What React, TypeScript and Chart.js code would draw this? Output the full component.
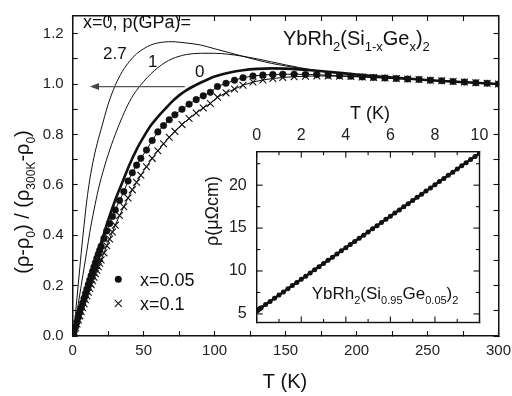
import React, { useEffect, useRef } from 'react';
import { Chart, registerables } from 'chart.js';
Chart.register(...registerables);

const FONT = '"Liberation Sans", Arial, sans-serif';

// ---- axis ticks ----
const mainXTicks = [0, 50, 100, 150, 200, 250, 300];
const mainXMinor = [25, 75, 125, 175, 225, 275];
const mainYTicks = [0, 0.2, 0.4, 0.6, 0.8, 1.0, 1.2];
const mainYMinor = [0.1, 0.3, 0.5, 0.7, 0.9, 1.1];
const insetXTicks = [0, 2, 4, 6, 8, 10];
const insetXMinor = [1, 3, 5, 7, 9];
const insetYTicks = [5, 10, 15, 20];
const insetYMinor = [7.5, 12.5, 17.5, 22.5];

// ---- x=0, p=2.7 GPa (thin) ----
const tP27 = [0, 1, 2, 3, 4, 5, 6, 8, 10, 12, 15, 18, 20, 25, 30, 35, 40, 45, 50, 55, 60, 65, 70, 75, 80, 90, 100, 110, 120, 130, 140, 150, 160, 170, 180, 200, 220, 240, 260, 280, 300];
const vP27 = [0, 0.04, 0.09, 0.15, 0.21, 0.27, 0.33, 0.44, 0.54, 0.62, 0.71, 0.78, 0.82, 0.92, 0.995, 1.05, 1.09, 1.12, 1.14, 1.155, 1.163, 1.167, 1.168, 1.166, 1.163, 1.155, 1.14, 1.125, 1.11, 1.095, 1.082, 1.072, 1.062, 1.054, 1.047, 1.036, 1.027, 1.019, 1.012, 1.006, 1.0];

// ---- x=0, p=1 GPa (thin) ----
const tP1 = [0, 2, 4, 6, 8, 10, 12, 15, 18, 20, 25, 30, 35, 40, 45, 50, 55, 60, 65, 70, 75, 80, 90, 100, 110, 120, 130, 140, 150, 160, 170, 180, 200, 220, 240, 260, 280, 300];
const vP1 = [0, 0.06, 0.13, 0.2, 0.27, 0.34, 0.41, 0.5, 0.58, 0.625, 0.72, 0.8, 0.87, 0.93, 0.975, 1.01, 1.04, 1.065, 1.085, 1.1, 1.11, 1.117, 1.122, 1.122, 1.118, 1.11, 1.1, 1.088, 1.076, 1.065, 1.055, 1.047, 1.036, 1.027, 1.019, 1.012, 1.006, 1.0];

// ---- x=0, p=0 (thick) ----
const tP0 = [0, 2, 4, 6, 8, 10, 12, 15, 18, 20, 25, 30, 35, 40, 45, 50, 55, 60, 65, 70, 75, 80, 90, 100, 110, 120, 130, 140, 150, 160, 170, 180, 200, 220, 240, 260, 280, 300];
const vP0 = [0, 0.03, 0.07, 0.11, 0.15, 0.19, 0.225, 0.28, 0.335, 0.37, 0.46, 0.54, 0.61, 0.68, 0.74, 0.79, 0.835, 0.87, 0.9, 0.93, 0.955, 0.975, 1.005, 1.03, 1.045, 1.055, 1.06, 1.062, 1.061, 1.058, 1.054, 1.049, 1.038, 1.028, 1.02, 1.012, 1.006, 1.0];

// ---- x=0.05 (dots) ----
const tX005 = [0, 1, 2, 3, 4, 5, 6, 7, 8, 9, 10, 11, 12, 13, 14, 15, 16, 17, 18, 19, 20, 22, 24, 26, 28, 30, 33, 36, 39, 42, 45, 48, 52, 56, 60, 64, 68, 72, 77, 82, 87, 92, 97, 102, 108, 114, 120, 127, 134, 141, 148, 156, 164, 172, 180, 188, 196, 204, 212, 220, 228, 236, 244, 252, 260, 268, 276, 284, 292, 300];
const vX005 = [0, 0.018, 0.036, 0.055, 0.074, 0.093, 0.112, 0.131, 0.15, 0.168, 0.186, 0.204, 0.222, 0.24, 0.257, 0.274, 0.291, 0.308, 0.324, 0.34, 0.356, 0.387, 0.417, 0.446, 0.474, 0.5, 0.538, 0.573, 0.615, 0.648, 0.678, 0.705, 0.738, 0.776, 0.81, 0.835, 0.858, 0.878, 0.9, 0.92, 0.938, 0.953, 0.967, 0.99, 1.003, 1.015, 1.025, 1.032, 1.036, 1.038, 1.039, 1.039, 1.038, 1.037, 1.035, 1.033, 1.031, 1.028, 1.026, 1.024, 1.022, 1.02, 1.018, 1.015, 1.013, 1.01, 1.008, 1.005, 1.003, 1.0];

// ---- x=0.1 (crosses) ----
const tX01 = [0, 1, 2, 3, 4, 5, 6, 7, 8, 9, 10, 11, 12, 13, 14, 15, 16, 17, 18, 19, 20, 22, 24, 26, 28, 30, 33, 36, 39, 42, 45, 48, 52, 56, 60, 64, 68, 72, 77, 82, 87, 92, 97, 102, 108, 114, 120, 127, 134, 141, 148, 156, 164, 172, 180, 188, 196, 204, 212, 220, 228, 236, 244, 252, 260, 268, 276, 284, 292, 300];
const vX01 = [0, 0.016, 0.032, 0.048, 0.064, 0.08, 0.096, 0.112, 0.128, 0.144, 0.159, 0.174, 0.189, 0.204, 0.219, 0.233, 0.247, 0.261, 0.275, 0.289, 0.302, 0.33, 0.358, 0.385, 0.413, 0.44, 0.478, 0.513, 0.548, 0.58, 0.61, 0.638, 0.672, 0.705, 0.735, 0.763, 0.789, 0.812, 0.839, 0.863, 0.885, 0.905, 0.923, 0.948, 0.965, 0.98, 0.995, 1.008, 1.016, 1.022, 1.026, 1.029, 1.031, 1.032, 1.032, 1.031, 1.03, 1.028, 1.026, 1.024, 1.022, 1.02, 1.018, 1.015, 1.013, 1.01, 1.008, 1.005, 1.003, 1.0];

// ---- inset: rho(T) of YbRh2(Si0.95Ge0.05)2 ----
const tInset = [0, 0.05, 0.1, 0.15, 0.2, 0.4, 0.6, 0.8, 1.0, 1.2, 1.4, 1.6, 1.8, 2.0, 2.2, 2.4, 2.6, 2.8, 3.0, 3.2, 3.4, 3.6, 3.8, 4.0, 4.2, 4.4, 4.6, 4.8, 5.0, 5.2, 5.4, 5.6, 5.8, 6.0, 6.2, 6.4, 6.6, 6.8, 7.0, 7.2, 7.4, 7.6, 7.8, 8.0, 8.2, 8.4, 8.6, 8.8, 9.0, 9.2, 9.4, 9.6, 9.8, 10.0];
const rhoInset = [5.35, 5.44, 5.53, 5.63, 5.72, 6.09, 6.45, 6.82, 7.19, 7.56, 7.93, 8.3, 8.67, 9.03, 9.4, 9.77, 10.14, 10.51, 10.88, 11.24, 11.61, 11.98, 12.35, 12.71, 13.08, 13.45, 13.82, 14.18, 14.55, 14.92, 15.28, 15.65, 16.02, 16.38, 16.75, 17.12, 17.48, 17.85, 18.22, 18.58, 18.95, 19.32, 19.68, 20.05, 20.42, 20.78, 21.15, 21.51, 21.88, 22.25, 22.61, 22.98, 23.34, 23.71];

const pts = (xs: number[], ys: number[]) => xs.map((x, i) => ({ x, y: ys[i] }));
const allSorted = (a: number[], b: number[]) => [...a, ...b].sort((p, q) => p - q);
const isMajor = (list: number[], v: number) => list.some(m => Math.abs(m - v) < 1e-9);

type Seg = { t: string; sub?: boolean };

function drawRich(ctx: CanvasRenderingContext2D, segs: Seg[], x: number, y: number, size: number, subSize: number, align: 'left' | 'center' = 'left') {
  let total = 0;
  const widths: number[] = [];
  for (const s of segs) {
    ctx.font = `${s.sub ? subSize : size}px ${FONT}`;
    const w = ctx.measureText(s.t).width;
    widths.push(w);
    total += w;
  }
  let cx = align === 'center' ? x - total / 2 : x;
  ctx.textAlign = 'left';
  ctx.textBaseline = 'alphabetic';
  segs.forEach((s, i) => {
    ctx.font = `${s.sub ? subSize : size}px ${FONT}`;
    ctx.fillText(s.t, cx, y + (s.sub ? size * 0.28 : 0));
    cx += widths[i];
  });
}

function drawBoxTicks(ctx: CanvasRenderingContext2D, xs: any, ys: any, xMaj: number[], xMin: number[], yMaj: number[], yMin: number[], majLen: number, minLen: number, lw: number) {
  const L = xs.getPixelForValue(xs.min), R = xs.getPixelForValue(xs.max);
  const T = ys.getPixelForValue(ys.max), B = ys.getPixelForValue(ys.min);
  ctx.save();
  ctx.fillStyle = '#111111';
  const h = lw / 2;
  ctx.fillRect(L - h, T - h, R - L + lw, lw);
  ctx.fillRect(L - h, B - h, R - L + lw, lw);
  ctx.fillRect(L - h, T - h, lw, B - T + lw);
  ctx.fillRect(R - h, T - h, lw, B - T + lw);
  const tw = 1.1;
  xMaj.forEach(v => { const p = xs.getPixelForValue(v); ctx.fillRect(p - tw / 2, B - majLen, tw, majLen); ctx.fillRect(p - tw / 2, T, tw, majLen); });
  xMin.forEach(v => { const p = xs.getPixelForValue(v); ctx.fillRect(p - tw / 2, B - minLen, tw, minLen); ctx.fillRect(p - tw / 2, T, tw, minLen); });
  yMaj.forEach(v => { const p = ys.getPixelForValue(v); ctx.fillRect(L, p - tw / 2, majLen, tw); ctx.fillRect(R - majLen, p - tw / 2, majLen, tw); });
  yMin.forEach(v => { const p = ys.getPixelForValue(v); ctx.fillRect(L, p - tw / 2, minLen, tw); ctx.fillRect(R - minLen, p - tw / 2, minLen, tw); });
  ctx.restore();
}

const zeroPad = (s: any) => { s.paddingLeft = 0; s.paddingRight = 0; s.paddingTop = 0; s.paddingBottom = 0; };

const mainPlugin = {
  id: 'mainDecor',
  afterDraw(chart: any) {
    const ctx: CanvasRenderingContext2D = chart.ctx;
    const xs = chart.scales.x, ys = chart.scales.y;
    ctx.save();
    ctx.fillStyle = '#111';
    ctx.font = `20px ${FONT}`;
    ctx.textAlign = 'center';
    ctx.textBaseline = 'alphabetic';
    ctx.fillText('T (K)', 285, 388);
    ctx.save();
    ctx.translate(29, 202);
    ctx.rotate(-Math.PI / 2);
    drawRich(ctx, [
      { t: '(ρ-ρ' }, { t: '0', sub: true }, { t: ') / (ρ' }, { t: '300K', sub: true },
      { t: '-ρ' }, { t: '0', sub: true }, { t: ')' },
    ], 0, 0, 20, 12, 'center');
    ctx.restore();
    ctx.font = `18px ${FONT}`;
    ctx.textAlign = 'left';
    ctx.fillText('x=0, p(GPa)=', 83, 28);
    ctx.font = `17px ${FONT}`;
    ctx.fillText('2.7', 103, 59);
    ctx.fillText('1', 148, 66.5);
    ctx.fillText('0', 195, 77);
    drawRich(ctx, [
      { t: 'YbRh' }, { t: '2', sub: true }, { t: '(Si' }, { t: '1-x', sub: true },
      { t: 'Ge' }, { t: 'x', sub: true }, { t: ')' }, { t: '2', sub: true },
    ], 283, 45, 20, 13);
    const yA = ys.getPixelForValue(0.99);
    const x0 = xs.getPixelForValue(79), x1 = xs.getPixelForValue(12.2);
    ctx.strokeStyle = '#555';
    ctx.fillStyle = '#444';
    ctx.lineWidth = 1.3;
    ctx.beginPath();
    ctx.moveTo(x0, yA); ctx.lineTo(x1 + 6, yA);
    ctx.stroke();
    ctx.beginPath();
    ctx.moveTo(x1, yA); ctx.lineTo(x1 + 9, yA - 3.5); ctx.lineTo(x1 + 9, yA + 3.5); ctx.closePath();
    ctx.fill();
    ctx.fillStyle = '#111';
    ctx.strokeStyle = '#111';
    ctx.beginPath(); ctx.arc(118.3, 279.3, 3.5, 0, Math.PI * 2); ctx.fill();
    ctx.lineWidth = 1.1;
    ctx.beginPath();
    ctx.moveTo(114.8, 299.8); ctx.lineTo(121.8, 306.8);
    ctx.moveTo(121.8, 299.8); ctx.lineTo(114.8, 306.8);
    ctx.stroke();
    ctx.font = `18px ${FONT}`;
    ctx.fillText('x=0.05', 140, 285.5);
    ctx.fillText('x=0.1', 140, 309.5);
    ctx.restore();
  },
};

const insetPlugin = {
  id: 'insetDecor',
  afterDraw(chart: any) {
    const ctx: CanvasRenderingContext2D = chart.ctx;
    ctx.save();
    ctx.fillStyle = '#111';
    ctx.font = `18px ${FONT}`;
    ctx.textAlign = 'center';
    ctx.textBaseline = 'alphabetic';
    ctx.fillText('T (K)', 370 - 190, 119 - 95);
    ctx.save();
    ctx.translate(218 - 190, 211 - 95);
    ctx.rotate(-Math.PI / 2);
    ctx.fillText('ρ(μΩcm)', 0, 0);
    ctx.restore();
    drawRich(ctx, [
      { t: 'YbRh' }, { t: '2', sub: true }, { t: '(Si' }, { t: '0.95', sub: true },
      { t: 'Ge' }, { t: '0.05', sub: true }, { t: ')' }, { t: '2', sub: true },
    ], 311.7 - 190, 299 - 95, 17, 11);
    ctx.restore();
    drawBoxTicks(ctx, chart.scales.x, chart.scales.y, insetXTicks, insetXMinor, insetYTicks, insetYMinor, 6, 3.5, 1.4);
  },
};

export default function App() {
  const mainRef = useRef<HTMLCanvasElement>(null);
  const insetRef = useRef<HTMLCanvasElement>(null);

  useEffect(() => {
    const tickFont = { family: FONT, size: 15 };
    const TL = -5; // inward tick marks
    const frameGrid = { display: true, drawOnChartArea: false, drawTicks: true, tickLength: TL, tickWidth: 1.1, tickColor: '#111', color: '#111' };
    const frameBorder = { display: true, color: '#111', width: 1.5 };
    const xAll = allSorted(mainXTicks, mainXMinor);
    const yAll = allSorted(mainYTicks, mainYMinor);

    const main = new Chart(mainRef.current!, {
      type: 'line',
      data: {
        datasets: [
          { xAxisID: 'x', yAxisID: 'y', data: pts(tP27, vP27), borderColor: '#111', borderWidth: 1, pointRadius: 0, cubicInterpolationMode: 'monotone' },
          { xAxisID: 'x', yAxisID: 'y', data: pts(tP1, vP1), borderColor: '#111', borderWidth: 1, pointRadius: 0, cubicInterpolationMode: 'monotone' },
          { xAxisID: 'x', yAxisID: 'y', data: pts(tP0, vP0), borderColor: '#111', borderWidth: 2.6, pointRadius: 0, cubicInterpolationMode: 'monotone' },
          { xAxisID: 'x', yAxisID: 'y', data: pts(tX005, vX005), borderColor: '#111', borderWidth: 1, pointRadius: 3.3, pointStyle: 'circle', pointBackgroundColor: '#111', pointBorderColor: '#111', pointBorderWidth: 0.5 },
          { xAxisID: 'x', yAxisID: 'y', data: pts(tX01, vX01), borderColor: '#111', borderWidth: 1, pointRadius: 4.8, pointStyle: 'crossRot', pointBorderColor: '#111', pointBorderWidth: 1.1 },
        ],
      } as any,
      options: {
        animation: false,
        responsive: false,
        maintainAspectRatio: false,
        devicePixelRatio: 1,
        layout: { padding: { left: 0, right: 13.5, top: 16, bottom: 0 } },
        plugins: { legend: { display: false }, tooltip: { enabled: false } },
        elements: { line: { tension: 0 } },
        scales: {
          x: {
            type: 'linear', position: 'bottom', min: 0, max: 300,
            grid: frameGrid, border: frameBorder,
            afterBuildTicks: (s: any) => { s.ticks = xAll.map(value => ({ value })); },
            afterFit: (s: any) => { s.height = 60; zeroPad(s); },
            ticks: { font: tickFont, color: '#222', padding: 6 - TL, maxRotation: 0, autoSkip: false, callback: (v: any) => (isMajor(mainXTicks, Number(v)) ? String(v) : '') },
          },
          x2: {
            type: 'linear', position: 'top', min: 0, max: 300,
            grid: frameGrid, border: frameBorder,
            afterBuildTicks: (s: any) => { s.ticks = xAll.map(value => ({ value })); },
            afterFit: (s: any) => { s.height = 0; zeroPad(s); },
            ticks: { display: false, autoSkip: false },
          },
          y: {
            type: 'linear', position: 'left', min: 0, max: 1.27,
            grid: frameGrid, border: frameBorder,
            afterBuildTicks: (s: any) => { s.ticks = yAll.map(value => ({ value })); },
            afterFit: (s: any) => { s.width = 72.7; zeroPad(s); },
            ticks: { font: tickFont, color: '#222', padding: 9 - TL, autoSkip: false, callback: (v: any) => (isMajor(mainYTicks, Number(v)) ? Number(v).toFixed(1) : '') },
          },
          y2: {
            type: 'linear', position: 'right', min: 0, max: 1.27,
            grid: frameGrid, border: frameBorder,
            afterBuildTicks: (s: any) => { s.ticks = yAll.map(value => ({ value })); },
            afterFit: (s: any) => { s.width = 0; zeroPad(s); },
            ticks: { display: false, autoSkip: false },
          },
        },
      } as any,
      plugins: [mainPlugin],
    });

    const insetFont = { family: FONT, size: 16 };
    const inset = new Chart(insetRef.current!, {
      type: 'line',
      data: {
        datasets: [
          { data: pts(tInset, rhoInset), borderColor: '#111', borderWidth: 2.5, pointRadius: 2.5, pointBackgroundColor: '#111', pointBorderWidth: 0 },
        ],
      } as any,
      options: {
        animation: false,
        responsive: false,
        maintainAspectRatio: false,
        devicePixelRatio: 1,
        layout: { padding: { left: 0, right: 15.5, top: 0, bottom: 12.5 } },
        plugins: { legend: { display: false }, tooltip: { enabled: false } },
        scales: {
          x: {
            type: 'linear', position: 'top', min: 0, max: 10,
            grid: { display: false, drawTicks: false }, border: { display: false },
            afterBuildTicks: (s: any) => { s.ticks = insetXTicks.map(value => ({ value })); },
            afterFit: (s: any) => { s.height = 56.7; zeroPad(s); },
            ticks: { font: insetFont, color: '#222', padding: 7, maxRotation: 0, autoSkip: false, callback: (v: any) => String(v) },
          },
          y: {
            type: 'linear', min: 4, max: 23.9,
            grid: { display: false, drawTicks: false }, border: { display: false },
            afterBuildTicks: (s: any) => { s.ticks = insetYTicks.map(value => ({ value })); },
            afterFit: (s: any) => { s.width = 66.7; zeroPad(s); },
            ticks: { font: insetFont, color: '#222', padding: 10, autoSkip: false, callback: (v: any) => String(v) },
          },
        },
      } as any,
      plugins: [insetPlugin],
    });

    return () => { main.destroy(); inset.destroy(); };
  }, []);

  return (
    <div style={{ position: 'absolute', left: 0, top: 0, width: 512, height: 396, background: '#fff' }}>
      <canvas ref={insetRef} width={305} height={240} style={{ position: 'absolute', left: 190, top: 95, width: 305, height: 240, zIndex: 1 }} />
      <canvas ref={mainRef} width={512} height={396} style={{ position: 'absolute', left: 0, top: 0, width: 512, height: 396, zIndex: 2 }} />
    </div>
  );
}
